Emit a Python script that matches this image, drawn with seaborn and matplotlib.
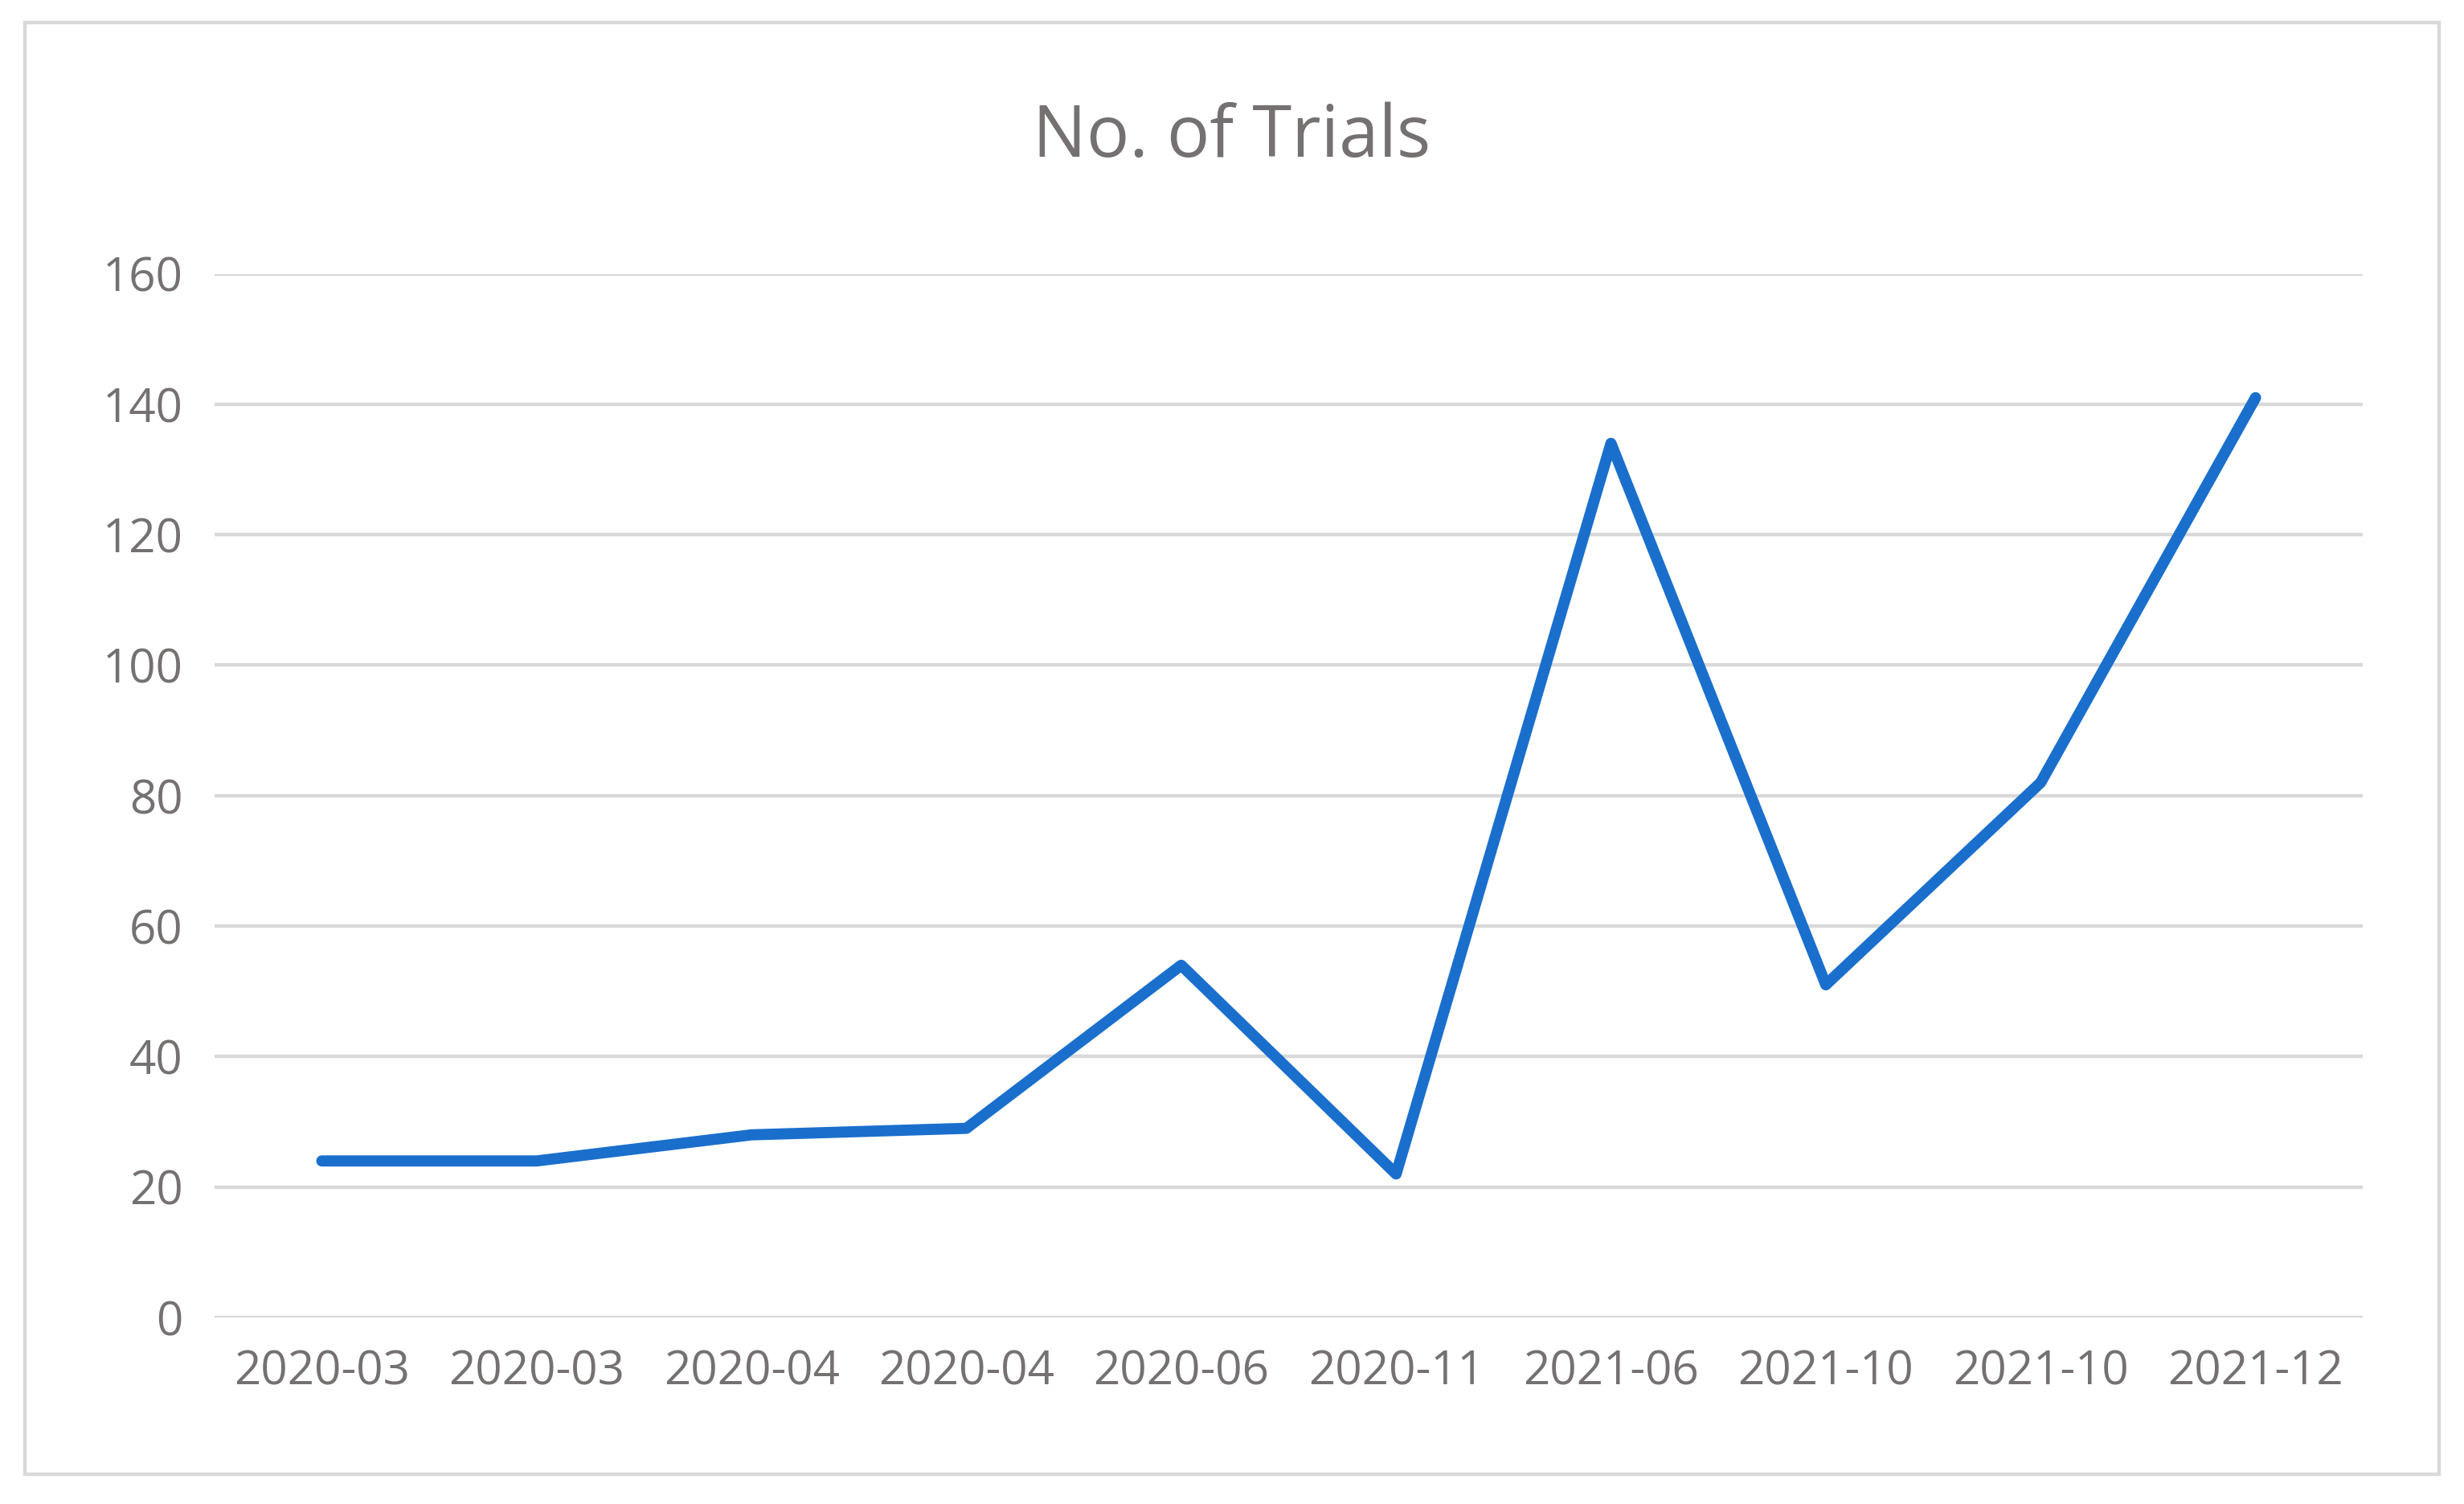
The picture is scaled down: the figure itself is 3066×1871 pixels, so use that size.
import matplotlib
matplotlib.use("Agg")
import matplotlib.pyplot as plt
import seaborn as sns
import pandas as pd

sns.set_theme(style="white")
plt.rcParams['font.family'] = ['Open Sans', 'DejaVu Sans']

# === Data ===
months = ["2020-03", "2020-03", "2020-04", "2020-04", "2020-06",
          "2020-11", "2021-06", "2021-10", "2021-10", "2021-12"]
trials = [24, 24, 28, 29, 54, 22, 134, 51, 82, 141]

df = pd.DataFrame({"idx": range(len(months)), "trials": trials})

fig = plt.figure(figsize=(15.33, 9.355), dpi=200)
ax = fig.add_axes([0.087, 0.124, 0.872, 0.694])

sns.lineplot(data=df, x="idx", y="trials", ax=ax, color="#1a6fcc",
             linewidth=5, solid_joinstyle="round", solid_capstyle="round")

grey = "#767171"
ax.set_xlim(-0.5, len(months) - 0.5)
ax.set_ylim(0, 160)
ax.set_yticks(range(0, 161, 20))
ax.set_xticks(range(len(months)))
ax.set_xticklabels(months)
ax.tick_params(axis="both", colors=grey, labelsize=21, length=0, pad=14)
ax.grid(axis="y", color="#d9d9d9", linewidth=1.6)
ax.set_axisbelow(True)
for s in ax.spines.values():
    s.set_visible(False)
ax.set_xlabel("")
ax.set_ylabel("")

fig.text(0.5, 0.908, "No. of Trials", ha="center", va="center",
         fontsize=32, color=grey)

# outer border
fig.patches.append(plt.Rectangle((0.01, 0.02), 0.98, 0.965, transform=fig.transFigure,
                                 fill=False, edgecolor="#d9d9d9", linewidth=1.6))

fig.savefig("out.png", dpi=200)
